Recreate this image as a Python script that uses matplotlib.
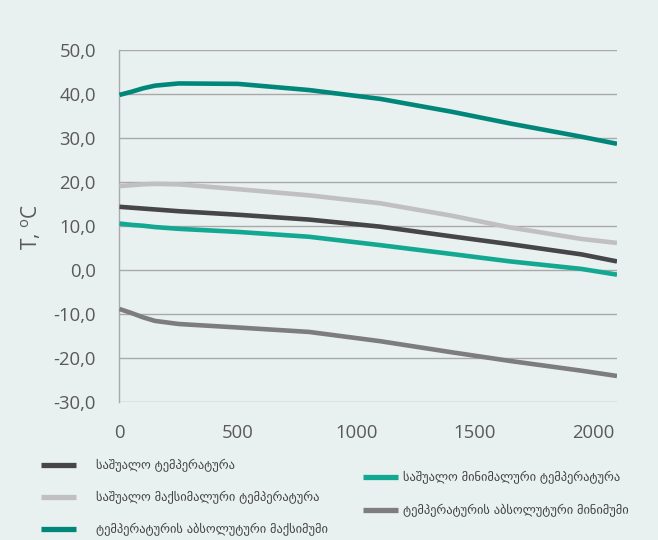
import matplotlib
matplotlib.use("Agg")
import matplotlib.pyplot as plt
from matplotlib.lines import Line2D

# Data
altitude = [0, 50, 100, 150, 250, 500, 800, 1100, 1400, 1650, 1950, 2100]
avg_temp = [14.3, 14.1, 13.9, 13.7, 13.3, 12.5, 11.4, 9.8, 7.6, 5.8, 3.5, 1.9]
avg_max = [19.0, 19.2, 19.4, 19.5, 19.4, 18.3, 16.9, 15.1, 12.3, 9.6, 7.0, 6.1]
abs_max = [39.7, 40.4, 41.2, 41.8, 42.3, 42.2, 40.8, 38.8, 35.9, 33.2, 30.2, 28.6]
avg_min = [10.5, 10.2, 10.0, 9.7, 9.3, 8.6, 7.5, 5.6, 3.6, 1.9, 0.2, -1.1]
abs_min = [-8.9, -9.8, -10.8, -11.6, -12.3, -13.1, -14.1, -16.2, -18.7, -20.7, -22.9, -24.1]

labels = {
    "avg": "საშუალო ტემპერატურა",
    "avg_max": "საშუალო მაქსიმალური ტემპერატურა",
    "abs_max": "ტემპერატურის აბსოლუტური მაქსიმუმი",
    "avg_min": "საშუალო მინიმალური ტემპერატურა",
    "abs_min": "ტემპერატურის აბსოლუტური მინიმუმი",
}
yticks = [-30, -20, -10, 0, 10, 20, 30, 40, 50]
xticks = [0, 500, 1000, 1500, 2000]

bg = "#e9f0f0"
colors = {
    "avg": "#464648",
    "avg_max": "#c0c0c2",
    "abs_max": "#00877a",
    "avg_min": "#13a891",
    "abs_min": "#7d7d7f",
}

fig = plt.figure(figsize=(6.58, 5.40), dpi=100, facecolor=bg)
ax = fig.add_axes([0.1816, 0.2556, 0.9377 - 0.1816, 0.9083 - 0.2556])
ax.set_facecolor(bg)

lw = 3.3
series = [("avg", avg_temp), ("avg_max", avg_max), ("abs_max", abs_max),
          ("avg_min", avg_min), ("abs_min", abs_min)]
for key, vals in series:
    ax.plot(altitude, vals, color=colors[key], lw=lw, solid_capstyle="butt",
            solid_joinstyle="round", zorder=3)

ax.set_xlim(0, 2100)
ax.set_ylim(-30, 50)
ax.set_yticks(yticks)
ax.set_yticklabels([f"{v:.1f}".replace(".", ",") for v in yticks])
ax.set_xticks(xticks)
ax.set_xticklabels([str(v) for v in xticks])
ax.grid(axis="y", color="#a9a9a9", lw=1.0, zorder=1)
ax.grid(axis="x", visible=False)
for s in ["top", "right", "bottom"]:
    ax.spines[s].set_visible(False)
ax.spines["left"].set_color("#a9a9a9")
ax.spines["left"].set_linewidth(1.0)
ax.tick_params(axis="both", length=0, labelsize=13.3, labelcolor="#595959")
ax.tick_params(axis="y", pad=17)
ax.tick_params(axis="x", pad=16)
for t in ax.get_yticklabels() + ax.get_xticklabels():
    t.set_family(["Open Sans", "DejaVu Sans"])

fig.text(0.047, 0.58, "T, $^{\\mathregular{o}}$C", rotation=90, fontsize=15,
         color="#595959", ha="center", va="center", family=["Open Sans", "DejaVu Sans"])

def mk(key):
    return Line2D([0], [0], color=colors[key], lw=3.8, solid_capstyle="butt")

fs = 8.9
leg1 = fig.legend([mk("avg"), mk("avg_max"), mk("abs_max")],
                  [labels["avg"], labels["avg_max"], labels["abs_max"]],
                  loc="upper left", bbox_to_anchor=(0.063, 0.15), frameon=False,
                  handlelength=2.83, handletextpad=1.62, labelspacing=1.54,
                  prop={"family": "DejaVu Sans", "size": fs}, labelcolor="#404040",
                  borderaxespad=0, borderpad=0)
leg2 = fig.legend([mk("avg_min"), mk("abs_min")],
                  [labels["avg_min"], labels["abs_min"]],
                  loc="upper left", bbox_to_anchor=(0.551, 0.128), frameon=False,
                  handlelength=2.83, handletextpad=0.45, labelspacing=1.62,
                  prop={"family": "DejaVu Sans", "size": fs}, labelcolor="#404040",
                  borderaxespad=0, borderpad=0)

fig.savefig("out.png", dpi=100, facecolor=bg)
